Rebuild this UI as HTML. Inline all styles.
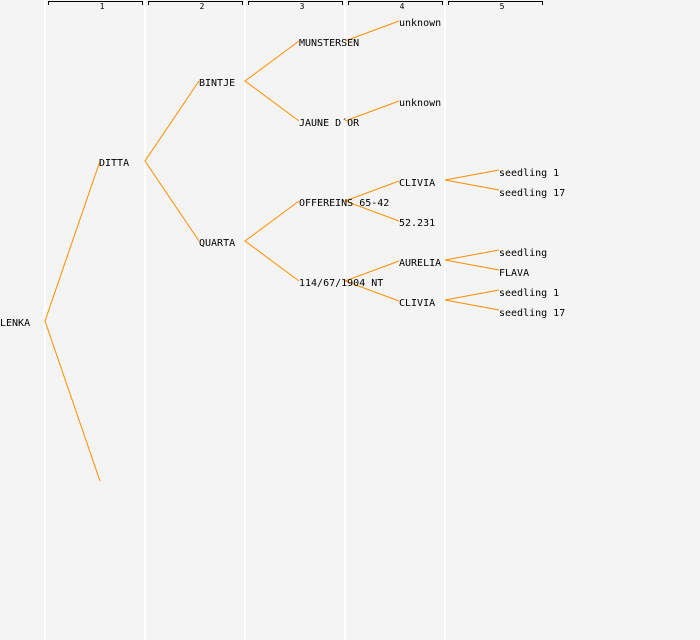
<!DOCTYPE html>
<html><head><meta charset="utf-8"><style>
html,body{margin:0;padding:0;background:#f4f4f4;}
svg{display:block;}
text{font-family:"DejaVu Sans Mono","Liberation Mono",monospace;font-size:10px;fill:#000;}
.h{font-size:8px;}
</style></head><body>
<svg width="700" height="640" xmlns="http://www.w3.org/2000/svg">
<rect width="700" height="640" fill="#f4f4f4"/>
<g stroke="#ffffff" stroke-width="2">
<line x1="45" y1="0" x2="45" y2="640"/><line x1="145" y1="0" x2="145" y2="640"/>
<line x1="245" y1="0" x2="245" y2="640"/><line x1="345" y1="0" x2="345" y2="640"/>
<line x1="445" y1="0" x2="445" y2="640"/>
</g>
<g stroke="#000" stroke-width="1" fill="none">
<path d="M48.5 5V1.5H142.5V5"/><path d="M148.5 5V1.5H242.5V5"/><path d="M248.5 5V1.5H342.5V5"/>
<path d="M348.5 5V1.5H442.5V5"/><path d="M448.5 5V1.5H542.5V5"/>
</g>
<g text-anchor="middle" class="h">
<text class="h" x="102" y="9">1</text><text class="h" x="202" y="9">2</text><text class="h" x="302" y="9">3</text>
<text class="h" x="402" y="9">4</text><text class="h" x="502" y="9">5</text>
</g>
<g stroke="#ff8c00" stroke-width="1" fill="none">
<path d="M100 161L45 321L100 481"/>
<path d="M199 81L145 161L199 241"/>
<path d="M299 41L245 81L299 121"/>
<path d="M299 201L245 241L299 281"/>
<path d="M399 21L345 41"/>
<path d="M399 101L345 121"/>
<path d="M399 181L345 201L399 221"/>
<path d="M399 261L345 281L399 301"/>
<path d="M499 170L445 180L499 190"/>
<path d="M499 250L445 260L499 270"/>
<path d="M499 290L445 300L499 310"/>
</g>
<text x="0" y="326">LENKA</text>
<text x="99" y="166">DITTA</text>
<text x="199" y="86">BINTJE</text>
<text x="199" y="246">QUARTA</text>
<text x="299" y="46">MUNSTERSEN</text>
<text x="299" y="126">JAUNE D´OR</text>
<text x="299" y="206">OFFEREINS 65-42</text>
<text x="299" y="286">114/67/1904 NT</text>
<text x="399" y="26">unknown</text>
<text x="399" y="106">unknown</text>
<text x="399" y="186">CLIVIA</text>
<text x="399" y="226">52.231</text>
<text x="399" y="266">AURELIA</text>
<text x="399" y="306">CLIVIA</text>
<text x="499" y="176">seedling 1</text>
<text x="499" y="196">seedling 17</text>
<text x="499" y="256">seedling</text>
<text x="499" y="276">FLAVA</text>
<text x="499" y="296">seedling 1</text>
<text x="499" y="316">seedling 17</text>
</svg>
</body></html>
